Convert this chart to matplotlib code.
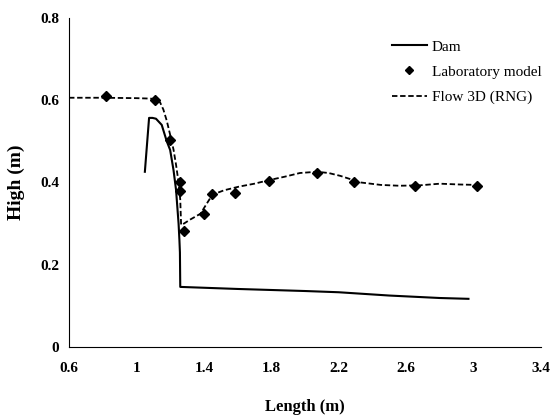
import matplotlib
matplotlib.use('Agg')
import matplotlib.pyplot as plt

plt.rcParams['font.family'] = ['Liberation Serif', 'DejaVu Serif']

# Dam profile
dam_x = [1.05, 1.075, 1.095, 1.116, 1.15, 1.18, 1.20, 1.22, 1.235, 1.25, 1.255, 1.258, 1.26,
         1.6, 2.0, 2.2, 2.5, 2.8, 2.97]
dam_y = [0.426, 0.557, 0.557, 0.555, 0.54, 0.50, 0.479, 0.43, 0.382, 0.30, 0.26, 0.23, 0.146,
         0.141, 0.136, 0.133, 0.125, 0.119, 0.117]

# Laboratory model points
lab_x = [0.82, 1.11, 1.20, 1.26, 1.26, 1.285, 1.40, 1.45, 1.585, 1.786, 2.07, 2.29, 2.65, 3.02]
lab_y = [0.611, 0.600, 0.504, 0.40, 0.38, 0.282, 0.324, 0.372, 0.375, 0.404, 0.423, 0.40, 0.392, 0.392]

# Flow 3D (RNG)
flow_x = [0.6, 0.8, 1.0, 1.08, 1.11, 1.14, 1.16, 1.18, 1.20, 1.22, 1.235, 1.25, 1.26, 1.265,
          1.27, 1.32, 1.38, 1.45, 1.52, 1.61, 1.70, 1.79, 1.88, 1.97, 2.07, 2.14, 2.21,
          2.33, 2.45, 2.56, 2.68, 2.80, 2.92, 3.02]
flow_y = [0.606, 0.606, 0.605, 0.604, 0.603, 0.595, 0.577, 0.550, 0.516, 0.48, 0.443, 0.40, 0.358,
          0.297, 0.297, 0.31, 0.324, 0.37, 0.381, 0.39, 0.397, 0.406, 0.414, 0.423, 0.426, 0.423,
          0.416, 0.40, 0.394, 0.392, 0.393, 0.397, 0.395, 0.394]

fig = plt.figure(figsize=(5.5, 4.18), dpi=100)
ax = fig.add_axes([0.1255, 0.17, 0.858, 0.787])

ax.plot(dam_x, dam_y, color='black', linewidth=1.5, label='Dam')
ax.plot(lab_x, lab_y, linestyle='none', marker='D', markersize=5, color='black',
        label='Laboratory model')
ax.plot(flow_x, flow_y, color='black', linewidth=1.3, linestyle=(0, (3, 1.5)),
        label='Flow 3D (RNG)')

ax.set_xlim(0.6, 3.4)
ax.set_ylim(0, 0.8)
ax.set_xticks([0.6, 1, 1.4, 1.8, 2.2, 2.6, 3, 3.4])
ax.set_xticklabels(['0.6', '1', '1.4', '1.8', '2.2', '2.6', '3', '3.4'])
ax.set_yticks([0, 0.2, 0.4, 0.6, 0.8])
ax.set_yticklabels(['0', '0.2', '0.4', '0.6', '0.8'])
ax.tick_params(axis='x', length=0, labelsize=11, pad=11)
ax.tick_params(axis='y', length=0, labelsize=11, pad=7)
for lbl in ax.get_xticklabels() + ax.get_yticklabels():
    lbl.set_fontweight('bold')

ax.spines['top'].set_visible(False)
ax.spines['right'].set_visible(False)

ax.set_xlabel('Length (m)', fontsize=12, fontweight='bold', labelpad=17)
ax.set_ylabel('High (m)', fontsize=14, fontweight='bold', labelpad=11)

leg = ax.legend(loc='upper left', bbox_to_anchor=(0.655, 0.975), frameon=False, fontsize=11,
                handlelength=2.3, labelspacing=0.75, handletextpad=0.3, markerscale=0.8)

fig.savefig('out.png', dpi=100)
